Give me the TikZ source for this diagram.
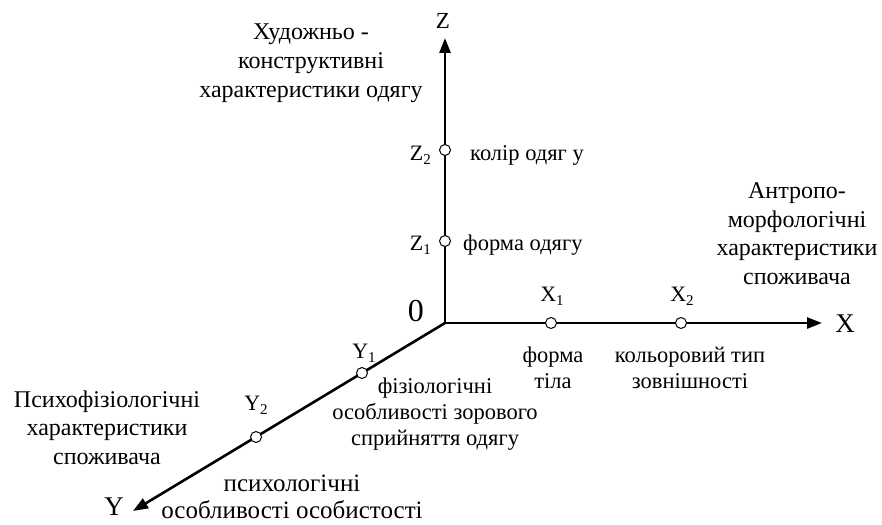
\documentclass[tikz,border=0pt]{standalone}
\usepackage{fontspec}
\setmainfont{Liberation Serif}
\usetikzlibrary{arrows.meta}
\newcommand\sbx[1]{\raisebox{-4pt}{\fontsize{15}{15}\selectfont #1}}
\tikzset{
 axisline/.style={line width=2.6pt},
 tipend/.style={-{Triangle[length=15pt,width=11pt]}},
 pt/.style={circle, draw, fill=white, line width=1pt, minimum size=11pt, inner sep=0pt},
 big/.style={font=\fontsize{24}{28.5}\selectfont, align=center, inner sep=0pt, anchor=base},
 small/.style={font=\fontsize{22.5}{26}\selectfont, align=center, inner sep=0pt, anchor=base},
 sub/.style={font=\fontsize{22}{24}\selectfont, inner sep=0pt, anchor=base},
 axlab/.style={font=\fontsize{27}{30}\selectfont, inner sep=0pt},
}
\begin{document}
\begin{tikzpicture}[x=1pt,y=-1pt]
\useasboundingbox (0,0) rectangle (882,524);
\coordinate (O) at (445,323);
\coordinate (Xe) at (822,323);
\coordinate (Ze) at (445,38);
\coordinate (Ye) at (133,511);
\draw[axisline,{Triangle[length=15pt,width=11pt]}-{Triangle[length=15pt,width=11pt]}] (Ze) -- (O) -- (Xe);
\draw[axisline,tipend] (O) -- (Ye);

\node[pt] (z1) at (445,241) {};
\node[pt] (z2) at (445,150) {};
\node[pt] (x1) at (551,323) {};
\node[pt] (x2) at (681,323) {};
\node[pt] (y1) at (362,373) {};
\node[pt] (y2) at (256,437) {};

\node[axlab, font=\fontsize{23}{25}\selectfont] (zl) at (443,21) {Z};
\node[axlab] (xl) at (845,324) {X};
\node[axlab] (yl) at (114,507) {Y};
\node[sub, font=\fontsize{32}{34}\selectfont, anchor=base east] (ol) at (424,321) {0};

\node[sub, anchor=base east] (z2l) at (431,160) {Z\sbx{2}};
\node[sub, anchor=base east] (z1l) at (431,250) {Z\sbx{1}};
\node[sub] (x1l) at (552,301) {X\sbx{1}};
\node[sub] (x2l) at (682,301) {X\sbx{2}};
\node[sub] (y1l) at (364,358) {Y\sbx{1}};
\node[sub] (y2l) at (256,410) {Y\sbx{2}};

\node[small, anchor=base west] (t1) at (470,160) {колір одяг у};
\node[small, anchor=base west] (t2) at (463,250) {форма одягу};
\node[small] (t3) at (553,388) {форма\\тіла};
\node[small] (t4) at (690,388) {кольоровий тип\\зовнішності};
\node[small] (t5) at (435,445) {фізіологічні\\особливості зорового\\сприйняття одягу};
\node[small, font=\fontsize{25}{26.5}\selectfont] (t6) at (292,518) {психологічні\\особливості особистості};

\node[big, font=\fontsize{24}{29}\selectfont] (g1) at (311,98) {Художньо -\\конструктивні\\характеристики одягу};
\node[big] (g2) at (797,284) {Антропо-\\морфологічні\\характеристики\\споживача};
\node[big] (g3) at (107,464) {Психофізіологічні\\характеристики\\споживача};
\end{tikzpicture}
\end{document}
